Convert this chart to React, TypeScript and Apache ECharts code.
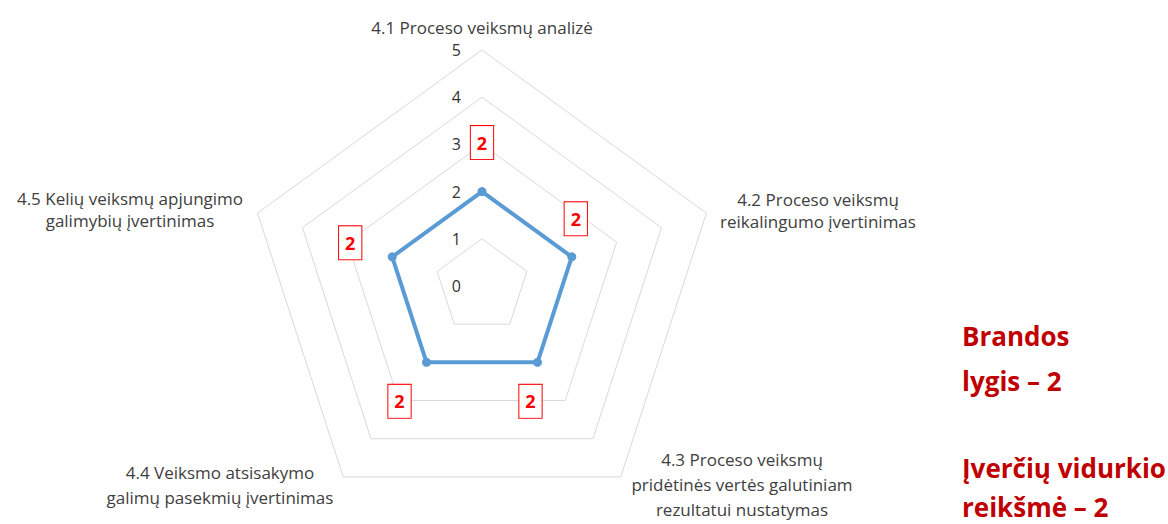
import React, { useEffect, useRef } from "react";
import * as echarts from "echarts";

// Indicators listed clockwise from the top (as in the reference)
const indicatorNames = [
  "4.1 Proceso veiksmų analizė",
  "4.2 Proceso veiksmų\nreikalingumo įvertinimas",
  "4.3 Proceso veiksmų\npridėtinės vertės galutiniam\nrezultatui nustatymas",
  "4.4 Veiksmo atsisakymo\ngalimų pasekmių įvertinimas",
  "4.5 Kelių veiksmų apjungimo\ngalimybių įvertinimas",
];
const scores = [2, 2, 2, 2, 2];
const axisMin = 0;
const axisMax = 5;
const axisInterval = 1;
const summaryLines = ["Brandos", "lygis – 2", "Įverčių vidurkio", "reikšmė – 2"];

// layout / style constants
const CX = 482;
const CY = 286;
const R = 236;
const FONT = "'Open Sans', 'Noto Sans', sans-serif";
// data-label offsets from each point (clockwise from top), pixels
const labelOffsets = [
  [0, -49],
  [4, -38],
  [-7, 39],
  [-27, 39],
  [-42, -14],
];
// name text anchors (clockwise from top)
const namePos = [
  { x: 482, y: 27, lh: 22 },
  { x: 818, y: 210, lh: 22 },
  { x: 742, y: 484, lh: 25 },
  { x: 220, y: 485, lh: 25 },
  { x: 130, y: 209, lh: 22 },
];
const summaryY = [336, 381, 468, 507];

export default function App() {
  const ref = useRef<HTMLDivElement>(null);
  useEffect(() => {
    if (!ref.current) return;
    const chart = echarts.init(ref.current, null, { renderer: "svg" });
    // ECharts lays radar indicators counter-clockwise; reorder accordingly
    const ccwOrder = [0, 4, 3, 2, 1];
    const indicators = ccwOrder.map((i, k) => ({
      name: indicatorNames[i],
      min: axisMin,
      max: axisMax,
      ...(k === 0 ? { axisLabel: { show: true } } : {}),
    }));
    const values = ccwOrder.map((i) => scores[i]);

    const graphics: any[] = [];
    indicatorNames.forEach((n, i) => {
      graphics.push({
        type: "text",
        x: namePos[i].x,
        y: namePos[i].y,
        style: {
          text: n,
          fill: "#404040",
          font: `17px ${FONT}`,
          textAlign: "center",
          textVerticalAlign: "middle",
          lineHeight: namePos[i].lh,
        },
      });
    });
    summaryLines.forEach((t, i) => {
      graphics.push({
        type: "text",
        x: 962,
        y: summaryY[i],
        style: {
          text: t,
          fill: "#C00000",
          font: `bold 26px ${FONT}`,
          textAlign: "left",
          textVerticalAlign: "middle",
        },
      });
    });

    chart.setOption({
      animation: false,
      backgroundColor: "#ffffff",
      radar: {
        center: [CX, CY],
        radius: R,
        startAngle: 90,
        shape: "polygon",
        splitNumber: (axisMax - axisMin) / axisInterval,
        indicator: indicators,
        axisName: { show: false },
        axisLine: { show: false },
        axisTick: { show: false },
        axisLabel: {
          show: false,
          color: "#333333",
          fontSize: 16,
          fontFamily: FONT,
          margin: 21,
        },
        splitLine: { lineStyle: { color: "#D9D9D9", width: 1 } },
        splitArea: { show: false },
      },
      graphic: graphics,
      series: [
        {
          type: "radar",
          symbol: "circle",
          symbolSize: 9,
          itemStyle: { color: "#5B9BD5" },
          lineStyle: { color: "#5B9BD5", width: 4 },
          label: {
            show: true,
            position: "inside",
            color: "#FF0000",
            fontWeight: "bold",
            fontSize: 18,
            fontFamily: FONT,
            lineHeight: 21,
            backgroundColor: "#ffffff",
            borderColor: "#FF0000",
            borderWidth: 1,
            padding: [6, 6],
            formatter: (p: any) => String(p.value),
          },
          labelLayout: (params: any) => {
            const r = params.rect;
            const px = r.x + r.width / 2;
            const py = r.y + r.height / 2;
            const ang = (Math.atan2(py - CY, px - CX) * 180) / Math.PI;
            const k = Math.round((((ang + 90) % 360) + 360) % 360 / 72) % 5;
            const off = labelOffsets[k];
            return {
              x: px + off[0],
              y: py + off[1],
              align: "center",
              verticalAlign: "middle",
            };
          },
          data: [{ value: values, name: "Įvertis" }],
        },
      ],
    });
    return () => chart.dispose();
  }, []);
  return (
    <div
      ref={ref}
      style={{ position: "fixed", left: 0, top: 0, width: 1168, height: 524 }}
    />
  );
}
